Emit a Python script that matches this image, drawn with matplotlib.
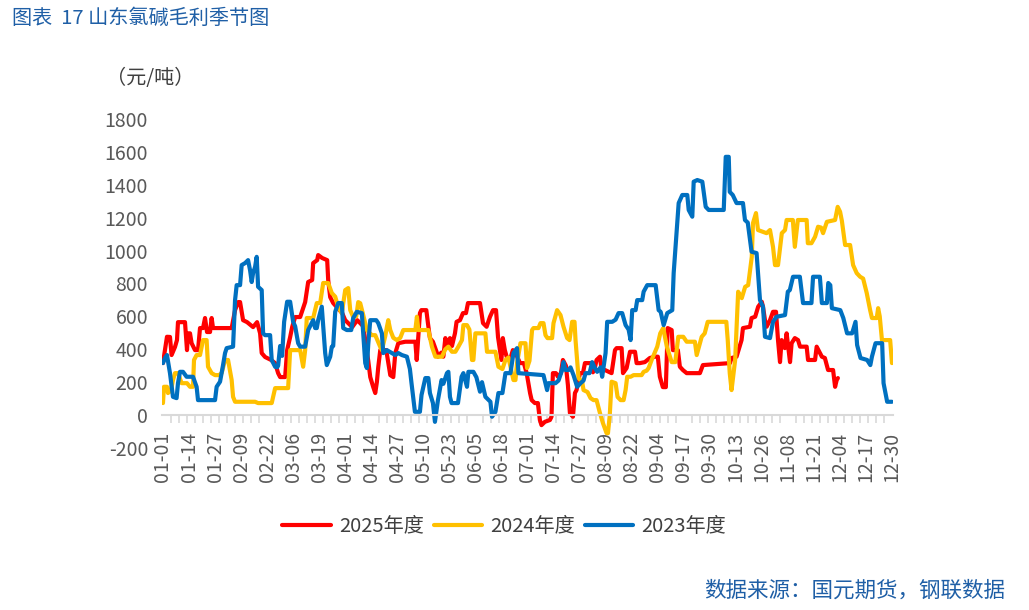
import matplotlib
matplotlib.use("Agg")
import matplotlib.pyplot as plt
from matplotlib.ticker import FixedLocator, MultipleLocator

plt.rcParams['font.family'] = ['Noto Sans CJK SC', 'DejaVu Sans']
plt.rcParams['axes.unicode_minus'] = False

# day index counted from 01-01 (leap-year calendar, 01-01 .. 12-30)
tick_labels = ["01-01", "01-14", "01-27", "02-09", "02-22", "03-06", "03-19",
               "04-01", "04-14", "04-27", "05-10", "05-23", "06-05", "06-18",
               "07-01", "07-14", "07-27", "08-09", "08-22", "09-04", "09-17",
               "09-30", "10-13", "10-26", "11-08", "11-21", "12-04", "12-17",
               "12-30"]

red_day = [0, 2, 3.5, 4.3, 6, 7, 7.5, 11, 12, 12.5, 13.5, 14.3, 16, 17.5, 18.5, 20, 21, 22, 23.5,
           24.3, 25, 34.3, 36, 37.5, 38.5, 40, 42, 45, 47, 48.5, 49.3, 51, 54, 56, 57.5, 58.5,
           61, 62, 63.5, 64.5, 66, 68.5, 71, 72.5, 74.5, 75, 77, 77.5, 79.5, 82, 82.5, 83.5, 85,
           89.5, 91, 92.5, 94.5, 97, 98.5, 100, 102.5, 103.5, 105, 106, 106.8, 107.5, 108.5,
           111.5, 113.5, 115, 116, 117.5, 121, 126, 126.7, 128.3, 129, 131.5, 132.3, 133.3,
           134.8, 136.6, 137.3, 139, 140, 141, 141.8, 143.3, 144.3, 145.8, 146.6, 148.3, 149.8,
           151.3, 152.3, 158.3, 159.8, 161.6, 163.3, 164.8, 166.3, 167.3, 169, 169.7, 170.7,
           171.6, 173.3, 174.7, 176.3, 178.3, 180.2, 181.6, 183.3, 184.1, 185.7, 187.2, 188.2,
           189, 190.7, 193.2, 194, 194.7, 196.2, 197.2, 198.7, 199.7, 201.2, 202.2, 203.2,
           204.7, 205.7, 206.5, 208.2, 209.7, 210.7, 214, 214.7, 215.7, 216.5, 218.2, 219,
           220.7, 224, 225.7, 226.5, 229, 229.7, 231.5, 233.2, 235.7, 236.5, 238.1, 240.6,
           243.1, 245.6, 247.1, 248.1, 249.6, 251.1, 252, 254, 254.6, 257.1, 258.1, 259.6,
           261.5, 268.1, 269.6, 283.1, 283.9, 286.4, 288.9, 289.6, 293.1, 293.9, 295.7, 297.2,
           299, 299.6, 300.6, 301.4, 303.1, 304.6, 306.1, 307.1, 308.1, 308.9, 310.5, 311.4,
           313.1, 313.9, 315.5, 317.1, 318.1, 321.4, 322.1, 325.6, 326.4, 328.1, 329, 330.5,
           332.1, 334.6, 335.6, 336.4, 337]
red_val = [316, 476, 475, 365, 414, 456, 565, 565, 395, 497, 497, 437, 395, 395, 529, 529, 590, 505, 505,
           590, 529, 529, 638, 687, 687, 577, 565, 535, 565, 497, 377, 353, 335, 316, 255, 231,
           231, 395, 474, 535, 596, 596, 687, 809, 821, 924, 942, 973, 955, 942, 821, 717, 681,
           620, 577, 559, 535, 577, 559, 540, 330, 231, 170, 134, 200, 292, 395,
           395, 243, 231, 377, 437, 446, 446, 335, 620, 638, 638, 559, 468,
           446, 385, 355, 380, 355, 468, 416, 468, 420, 497, 567, 577, 620,
           620, 681, 681, 559, 537, 598, 638, 638, 474, 335, 468, 395,
           355, 335, 395, 370, 316, 316, 255, 134, 91, 73, 73, -30,
           -61, -41, -30, -10, 255, 255, 233, 255, 335, 300, 182, 12,
           -10, 134, 152, 255, 255, 316, 316, 260, 290, 335, 355, 274,
           274, 255, 395, 407, 407, 255, 286, 385, 385, 316, 316, 322,
           347, 355, 355, 233, 170, 170, 529, 517, 395, 395, 294, 274,
           255, 255, 304, 316, 347, 355, 456, 529, 537, 590, 598, 659,
           689, 659, 577, 537, 577, 628, 628, 456, 322, 456, 407, 497,
           322, 437, 468, 456, 416, 416, 335, 335, 416, 377, 355, 347,
           274, 274, 172, 213, 225]

yel_day = [0, 0.5, 2, 2.5, 4, 5, 6, 7.5, 9.3, 12, 13.5, 15, 15.5, 16.8, 18.5, 20, 21.8, 22.5, 24.3,
           26, 28, 29.3, 31, 32.5, 34.3, 35, 36, 46, 47.5, 54.3, 56, 62.5, 63.5, 68.5, 70, 71,
           71.8, 75, 76.8, 78.5, 80, 82.5, 84.3, 86, 87.5, 89.3, 91, 92.5, 93.5, 95, 96.5, 97.5,
           98.5, 100, 101.8, 104.3, 106, 108.5, 109.3, 111, 111.8, 112.5, 113.5, 115, 116.8,
           118.5, 120, 126, 126.8, 127.5, 132.5, 134.3, 136, 139.3, 141, 142.5, 144.3, 146,
           147.5, 149.3, 150, 151.8, 153, 154.3, 155, 156, 161, 161.8, 166, 167.5, 169.5, 171,
           172.5, 173.5, 175, 176, 176.8, 178.5, 181, 181.8, 183, 184.3, 185, 187.5, 188.5, 190,
           191, 192, 194.3, 195, 196.8, 198.5, 200, 201.8, 203, 204.3, 205.5, 206, 207.5, 209.3,
           210, 212, 213.5, 215, 216.5, 218.2, 219.7, 221.5, 222.2, 223.1, 224, 226, 227, 228.5,
           230, 231, 231.8, 233.5, 235, 239, 240, 241.5, 242.5, 244, 246.8, 248.3, 249.8, 251.6,
           254, 255.8, 257.3, 259.8, 261.5, 265.6, 266.5, 269, 270.5, 272, 281.3, 282, 283,
           283.9, 285.7, 287.2, 289, 290.7, 292.2, 294, 294.6, 296.1, 297.1, 301.4, 303.1, 304.6,
           305.6, 307.1, 309, 310.6, 311.4, 314.5, 315.5, 317, 321.4, 322, 323.8, 325.6, 327.1,
           328.6, 329.6, 331.5, 335.6, 336.9, 338.1, 339, 340.6, 343.1, 344.6, 346.4, 348.1,
           349.6, 351.4, 353.1, 354, 356.4, 357.1, 357.9, 359, 363.1, 364]
yel_val = [73, 172, 172, 134, 150, 213, 255, 255, 194, 194, 172, 172, 335, 365, 365, 456, 456, 294, 255,
           243, 243, 255, 335, 335, 213, 111, 81, 81, 73, 73, 164, 164, 395, 395, 294, 395,
           590, 590, 681, 681, 803, 803, 742, 720, 657, 620, 760, 772, 638, 596, 600, 687,
           680, 608, 517, 486, 486, 414, 395, 480, 535, 577, 517, 470, 456,
           470, 517, 517, 598, 517, 517, 416, 355, 355, 400, 416, 385, 385,
           416, 456, 547, 547, 520, 335, 335, 497, 497, 385, 385, 294, 280, 335,
           350, 294, 213, 213, 316, 437, 437, 286, 330, 517, 529, 529, 559, 559,
           486, 468, 468, 559, 638, 608, 537, 468, 456, 567, 567, 456, 225, 203,
           152, 140, 103, 91, 91, 12, -49, -110, -110, 0, 203, 194, 110, 91,
           91, 152, 233, 233, 243, 243, 263, 270, 286, 335, 416, 497, 529, 416,
           322, 322, 476, 476, 446, 446, 365, 476, 497, 567, 567, 456, 255,
           152, 335, 750, 711, 780, 790, 962, 1167, 1228, 1125, 1106, 1125, 1023,
           912, 912, 1106, 1125, 1186, 1186, 1023, 1186, 1186, 1045, 1045, 1084, 1145,
           1140, 1106, 1175, 1186, 1266, 1236, 1180, 1034, 1034, 912, 863, 841,
           830, 742, 638, 590, 590, 650, 600, 456, 456, 316]

blu_day = [0, 1, 2, 3.5, 5, 6.8, 7.5, 8.5, 10, 11.8, 15, 16.8, 17.5, 26, 26.8, 28.5, 29.3, 30, 31,
           31.8, 35, 36, 36.8, 38.5, 39.3, 41, 42.5, 43.5, 44.3, 45, 46, 46.8, 47.5, 49.3, 50, 51,
           53.5, 54.3, 56, 57, 57.5, 58.5, 59.5, 60.5, 62, 63.5, 65, 66, 67.5, 68.5, 71, 72.5, 75,
           76, 76.8, 77.5, 79.3, 81, 81.8, 83.5, 84.3, 85, 86, 87.5, 89.3, 90, 91.8, 94, 95, 96.8,
           99.3, 100, 101, 101.8, 102.5, 103.5, 106.5, 107.5, 109.3, 110, 111.8, 114.3, 116,
           117.5, 119.3, 121.8, 123.3, 124.1, 125.8, 128.3, 129.1, 131, 132.5, 133.3, 134.8,
           135.8, 137.3, 139.1, 140, 141.8, 142.5, 143.3, 144.1, 147.3, 149.1, 150, 151.8, 152.5,
           155, 156.5, 158.3, 159.3, 161, 163.5, 164.3, 166, 167.5, 169.5, 171, 173.5, 175, 176.8,
           177.5, 190, 191.8, 192.5, 196, 197.5, 199.3, 200, 201, 202.5, 203.5, 205, 206.8, 208.5,
           210, 211, 213, 214.3, 215.5, 216.8, 218.5, 219.3, 221, 221.8, 224.3, 226, 227.5, 229.3,
           231, 232.5, 233.5, 234.3, 236, 236.8, 239.3, 240, 241.8, 246, 247.5, 248.5, 250, 251.8,
           254.3, 255, 256.8, 257.5, 259.3, 261.8, 262.5, 264.3, 265, 266.8, 269.3, 271, 272.5,
           280, 281, 282.5, 283, 284.5, 286.4, 289.6, 290.6, 292, 293.9, 296.4, 298.1, 299.6,
           300.6, 303.1, 304.6, 306.4, 310.6, 312, 313, 314.6, 318, 319.6, 323.8, 324.6, 328, 329,
           331.5, 332.2, 333.2, 334, 338.2, 339.7, 341.6, 344.1, 345.8, 346.6, 348.3, 351.6,
           353.2, 354, 355.8, 359.1, 359.8, 361.6, 364]
blu_val = [316, 347, 365, 255, 111, 103, 194, 263, 263, 233, 233, 172, 91, 91, 172, 203, 255, 304, 377,
           407, 416, 699, 790, 790, 912, 924, 942, 880, 809, 863, 901, 962, 780, 760, 497, 486,
           486, 335, 294, 290, 300, 420, 360, 567, 689, 689, 567, 540, 437, 416, 416, 517, 577,
           529, 529, 577, 659, 377, 304, 355, 416, 420, 628, 681, 681, 529, 517, 517, 590, 628,
           620, 497, 316, 286, 430, 577, 577, 559, 497, 377, 395, 377, 365,
           377, 365, 355, 280, 194, 20, 20, 122, 225, 225, 134, 73,
           -41, 91, 213, 190, 255, 263, 111, 73, 73, 233, 255, 172, 263,
           263, 230, 142, 200, 111, 81, -10, 20, 134, 134, 255, 255, 377, 407,
           255, 243, 152, 194, 194, 210, 274, 322, 274, 274, 290, 243, 172, 194,
           210, 255, 255, 322, 290, 263, 290, 233, 377, 567, 567, 580, 620, 620,
           547, 520, 456, 638, 638, 699, 699, 750, 790, 790, 638, 628, 547, 620,
           638, 863, 1167, 1289, 1338, 1338, 1247, 1206, 1419, 1429, 1419, 1266, 1247,
           1247, 1570, 1570, 1357, 1338, 1289, 1289, 1186, 1170, 993, 985, 699, 659,
           476, 468, 567, 598, 608, 750, 760, 841, 841, 681, 681, 841, 841, 681,
           681, 803, 790, 650, 638, 590, 497, 497, 567, 426, 347, 335,
           304, 355, 437, 437, 194, 81, 81]

series = [("2025年度", red_day, red_val, "#ff0000"),
          ("2024年度", yel_day, yel_val, "#ffc000"),
          ("2023年度", blu_day, blu_val, "#0070c0")]

fig = plt.figure(figsize=(10.29, 6.10), dpi=100)
ax = fig.add_axes([0.1574, 0.2656, 0.7104, 0.5393])

for name, d, v, c in series:
    ax.plot(d, v, color=c, lw=3.0, label=name, solid_joinstyle='round', solid_capstyle='round')

ax.set_xlim(-0.5, 364.5)
ax.set_ylim(-200, 1800)
ax.yaxis.set_major_locator(MultipleLocator(200))

for s in ['top', 'right', 'left']:
    ax.spines[s].set_visible(False)
ax.spines['bottom'].set_position(('data', 0))
ax.spines['bottom'].set_color('#d9d9d9')
ax.spines['bottom'].set_linewidth(1.5)

ax.xaxis.set_major_locator(FixedLocator([i * 13 for i in range(len(tick_labels))]))
ax.set_xticklabels(tick_labels, rotation=90, fontsize=14, color='#595959')
ax.xaxis.set_minor_locator(MultipleLocator(4))
ax.tick_params(axis='x', which='major', length=0, pad=12)
ax.tick_params(axis='x', which='minor', length=6, width=1.2, color='#d9d9d9')
ax.tick_params(axis='y', length=0, labelsize=14, labelcolor='#595959', pad=10)

fig.text(0.012, 0.970, "图表  17 山东氯碱毛利季节图", fontsize=14.5, color='#1f5fa6', va='center')
fig.text(0.146, 0.872, "（元/吨）", fontsize=14.5, color='#404040', va='center', ha='center')
fig.text(0.977, 0.032, "数据来源：国元期货，钢联数据", fontsize=15.5, color='#1f5fa6',
         ha='right', va='center')

fig.legend(loc='center', bbox_to_anchor=(0.49, 0.137), ncol=3, frameon=False,
           fontsize=14.5, handlelength=2.4, handletextpad=0.4, columnspacing=0.5,
           labelcolor='#404040')

fig.savefig("out.png", dpi=100)
